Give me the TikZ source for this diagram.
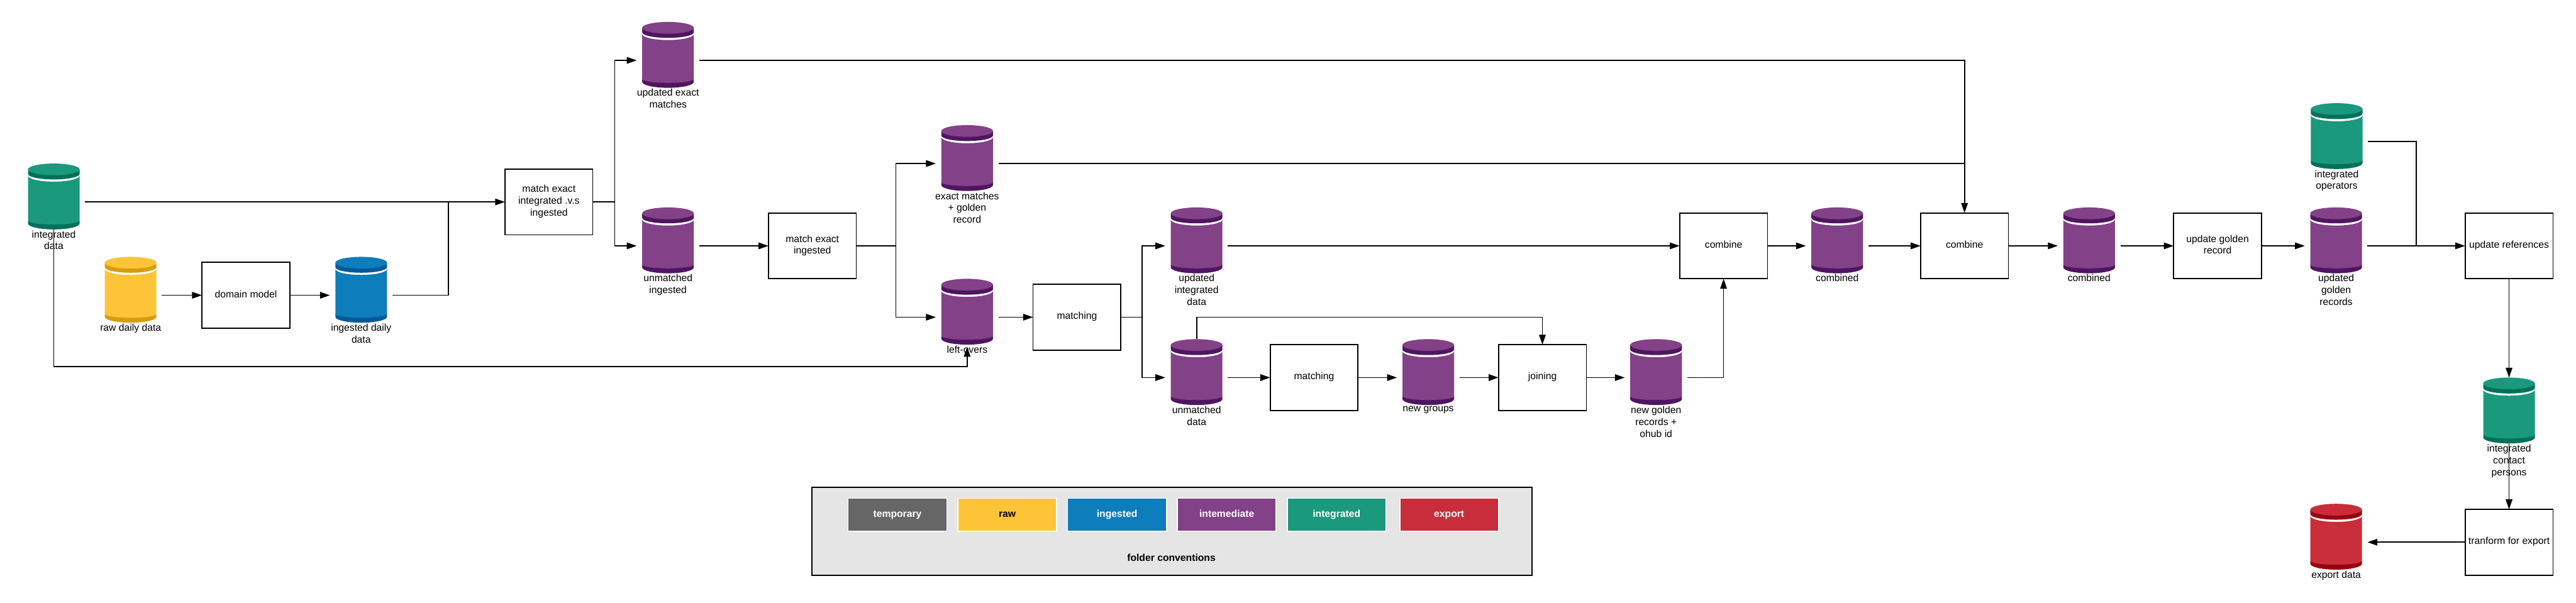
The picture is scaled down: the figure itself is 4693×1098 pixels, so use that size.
\documentclass[tikz,border=0pt]{standalone}
\usepackage{fontspec}
\setmainfont{Liberation Sans}
\usetikzlibrary{arrows.meta,positioning,calc}

\definecolor{tempgrey}{HTML}{666666}
\definecolor{rawfill}{HTML}{FDC437}
\definecolor{rawdark}{HTML}{D69E0E}
\definecolor{ingfill}{HTML}{0D7DBC}
\definecolor{ingdark}{HTML}{005A9A}
\definecolor{medfill}{HTML}{834187}
\definecolor{meddark}{HTML}{4F1560}
\definecolor{intfill}{HTML}{1A997D}
\definecolor{intdark}{HTML}{00705A}
\definecolor{expfill}{HTML}{C92D39}
\definecolor{expdark}{HTML}{99000F}
\definecolor{panelgrey}{HTML}{E5E5E5}

\newcommand{\labelfont}{\fontsize{18}{21.6}\selectfont}

\begin{document}
\begin{tikzpicture}[x=1pt, y=1pt,
    every node/.style={font=\labelfont},
    proc/.style={rectangle, draw, line width=2pt, outer sep=0pt, inner xsep=0pt, align=center, text depth=5pt, minimum width=160pt, minimum height=120pt},
    store/.style 2 args={rectangle, inner sep=0pt, outer sep=0pt, minimum width=114pt, minimum height=140pt,
        path picture={
            \begin{scope}[shift={(path picture bounding box.center)}]
                \fill[#2] (-47,-34) -- (-47,-39.3) arc[start angle=180, end angle=360, x radius=47, y radius=10.7] -- (47,-34) -- cycle;
                \fill[#1] (-47,48) -- (-47,-34) arc[start angle=180, end angle=360, x radius=47, y radius=7] -- (47,48) arc[start angle=0, end angle=-180, x radius=47, y radius=11] -- cycle;
                \fill[#2] (-47,59.3) -- (-47,51) arc[start angle=180, end angle=360, x radius=47, y radius=10] -- (47,59.3) -- cycle;
                \fill[#1] (0,59.3) ellipse[x radius=47, y radius=10.7];
            \end{scope}
        }},
    rawstore/.style={store={rawfill}{rawdark}},
    ingstore/.style={store={ingfill}{ingdark}},
    medstore/.style={store={medfill}{meddark}},
    intstore/.style={store={intfill}{intdark}},
    expstore/.style={store={expfill}{expdark}},
    caption/.style={anchor=north, align=center, inner sep=0pt, yshift=18pt},
    swatch/.style={rectangle, draw=white, line width=2pt, outer sep=0pt, minimum width=180pt, minimum height=60pt, text=white, text height=13pt, text depth=4pt, font=\labelfont\bfseries},
    line/.style={line width=2pt},
    arrow/.style={-{Stealth[length=18pt, width=12pt, inset=0pt]}, line width=2pt}
]
\useasboundingbox (0,0) rectangle (4693,1098);

% Sources
\node[intstore] (intdata) at (98,730) {};
\node[rawstore] (rawdata) at (238,560) {};
\node[proc, right=73pt of rawdata] (domain) {domain model};
\node[ingstore, right=73pt of domain] (ingdata) {};

% Exact matching
\node[proc] (matchint) at (1000,730) {match exact\\integrated .v.s\\ingested};
\coordinate[right=40pt of matchint] (splitint);
\node[medstore] (updexact) at (1217,988) {};
\node[medstore, below=198pt of updexact] (unmating) {};
\node[proc, right=126pt of unmating] (matching) {match exact\\ingested};
\coordinate[right=72pt of matching] (splitexact);
\node[medstore] (exactgold) at (1762,800) {};
\node[medstore, below=140pt of exactgold] (leftover) {};

% Fuzzy matching
\node[proc, right=63pt of leftover] (matchleft) {matching};
\coordinate[right=39pt of matchleft] (splitleft);
\node[medstore] (updint) at (2180,650) {};
\node[medstore, below=100pt of updint] (unmatdata) {};
\node[proc, right=77pt of unmatdata] (matchnew) {matching};
\node[medstore, right=71pt of matchnew] (newgroup) {};
\node[proc, right=71pt of newgroup] (joining) {joining};
\node[medstore, right=70pt of joining] (newgold) {};

% Combining
\node[proc] (combinea) at (3140,650) {combine};
\node[medstore, right=70pt of combinea] (combineda) {};
\node[proc, right=95pt of combineda] (combineb) {combine};
\node[medstore, right=90pt of combineb] (combinedb) {};
\node[proc, right=97pt of combinedb] (updrecord) {update golden\\record};
\node[medstore, right=79pt of updrecord] (updgold) {};

% References and export
\node[intstore] (intoper) at (4257,840) {};
\node[proc, right=178pt of updgold] (updref) {update references};
\coordinate[right=89pt of updgold] (mergeref);
\node[intstore, below=180pt of updref] (contact) {};
\node[proc, below=100pt of contact] (tranform) {tranform for export};
\node[expstore, left=178pt of tranform] (expdata) {};

% Captions
\node[caption] (intdatatxt) at (intdata.south) {integrated\\data};
\node[caption] (rawdatatxt) at (rawdata.south) {raw daily data};
\node[caption] (ingdatatxt) at (ingdata.south) {ingested daily\\data};
\node[caption] (updexacttxt) at (updexact.south) {updated exact\\matches};
\node[caption] (unmatingtxt) at (unmating.south) {unmatched\\ingested};
\node[caption] (exactgoldtxt) at (exactgold.south) {exact matches\\+ golden\\record};
\node[caption] (leftovertxt) at (leftover.south) {left-overs};
\node[caption] (updinttxt) at (updint.south) {updated\\integrated\\data};
\node[caption] (unmatdatatxt) at (unmatdata.south) {unmatched\\data};
\node[caption] (newgrouptxt) at (newgroup.south) {new groups};
\node[caption] (newgoldtxt) at (newgold.south) {new golden\\records +\\ohub id};
\node[caption] (combinedatxt) at (combineda.south) {combined};
\node[caption] (combinedbtxt) at (combinedb.south) {combined};
\node[caption] (updgoldtxt) at (updgold.south) {updated\\golden\\records};
\node[caption] (intopertxt) at (intoper.south) {integrated\\operators};
\node[caption] (contacttxt) at (contact.south) {integrated\\contact\\persons};
\node[caption] (expdatatxt) at (expdata.south) {export data};

% Arrows
\coordinate (mergeint) at (817,730);
\draw[arrow] (intdata) -- (matchint);
\draw[arrow] (rawdata) -- (domain);
\draw[arrow] (domain) -- (ingdata);
\draw[line] (ingdata) -| (mergeint);
\draw[arrow] (matchint) -- (splitint) |- (updexact);
\draw[arrow] (splitint) |- (unmating);
\draw[arrow] (unmating) -- (matching);
\draw[arrow] (matching) -- (splitexact) |- (exactgold);
\draw[arrow] (splitexact) |- (leftover);
\draw[arrow] ([yshift=20pt]intdata.south) -- ++(0,-250) -| ([yshift=16pt]leftover.south);
\draw[arrow] (leftover) -- (matchleft);
\draw[arrow] (matchleft) -- (splitleft) |- (updint);
\draw[arrow] (splitleft) |- (unmatdata);
\draw[arrow] (updint) -- (combinea);
\draw[arrow] (unmatdata) -- (matchnew);
\draw[arrow] (matchnew) -- (newgroup);
\draw[arrow] (newgroup) -- (joining);
\draw[arrow] (joining) -- (newgold);
\draw[arrow] (unmatdata.north) -- ++(0,40) -| (joining);
\draw[arrow] (newgold) -| (combinea);
\draw[arrow] (combinea) -- (combineda);
\draw[arrow] (combineda) -- (combineb);
\draw[arrow] (updexact) -| (combineb);
\draw[line] (exactgold) -- (exactgold -| combineb);
\draw[arrow] (combineb) -- (combinedb);
\draw[arrow] (combinedb) -- (updrecord);
\draw[arrow] (updrecord) -- (updgold);
\draw[arrow] (updgold) -- (updref);
\draw[line] (intoper) -| (mergeref);
\draw[arrow] (updref) -- (contact);
\draw[arrow] ([yshift=20pt]contact.south) -- (tranform);
\draw[arrow] (tranform) -- (expdata);

% Legend
\node[rectangle, draw, line width=2pt, fill=panelgrey, minimum width=1312pt, minimum height=160pt] (legend) at (2135,130) {};
\node[swatch, fill=tempgrey] (tempbox) at (1635,160) {temporary};
\node[swatch, fill=rawfill, text=black, right=20pt of tempbox] (rawbox) {raw};
\node[swatch, fill=ingfill, right=20pt of rawbox] (ingbox) {ingested};
\node[swatch, fill=medfill, right=20pt of ingbox] (medbox) {intemediate};
\node[swatch, fill=intfill, right=20pt of medbox] (intbox) {integrated};
\node[swatch, fill=expfill, right=25pt of intbox] (expbox) {export};
\node[font=\labelfont\bfseries] (legendtxt) at (2134,82) {folder conventions};

\end{tikzpicture}
\end{document}
